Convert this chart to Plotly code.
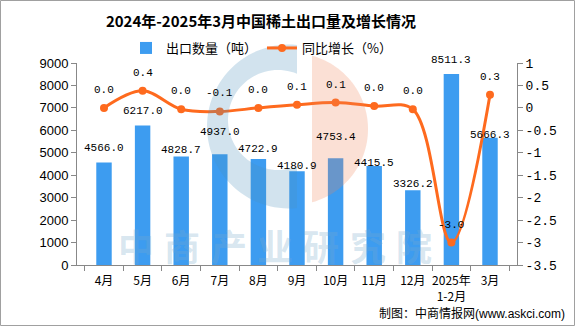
import math
import plotly.graph_objects as go

categories = ["4月", "5月", "6月", "7月", "8月", "9月", "10月", "11月", "12月", "2025年<br>1-2月", "3月"]
export_tons = [4566.0, 6217.0, 4828.7, 4937.0, 4722.9, 4180.9, 4753.4, 4415.5, 3326.2, 8511.3, 5666.3]
yoy_growth = [0.0, 0.38, -0.03, -0.08, 0.0, 0.07, 0.12, 0.04, -0.03, -3.0, 0.29]
left_ticks = [0, 1000, 2000, 3000, 4000, 5000, 6000, 7000, 8000, 9000]
right_ticks = [-3.5, -3, -2.5, -2, -1.5, -1, -0.5, 0, 0.5, 1]
right_ticktext = ["-3.5", "-3", "-2.5", "-2", "-1.5", "-1", "-0.5", "0", "0.5", "1"]
watermark_chars = list("中商产业研究院")

# label offsets (pixels above the bar top / marker), a styling list
bar_label_shift = [15, 14, 7, 22, 10, 5, 21, 3, 6, 14, 3]
line_label_shift = 18

W, H = 576, 327
ML, MR, MT, MB = 77, 59, 63, 62
PW, PH = W - ML - MR, H - MT - MB


def px(x):
    return (x - ML) / PW


def py(y):
    return (H - MB - y) / PH


def fmt1(v):
    return f"{round(v, 1) + 0.0:.1f}"


CJK = "Noto Sans CJK SC"
MONO = "Liberation Mono"

fig = go.Figure()
fig.add_trace(go.Bar(
    x=categories, y=export_tons, name="出口数量（吨）",
    marker=dict(color="#3d9cf0", line=dict(width=0)),
    yaxis="y",
))
fig.add_trace(go.Scatter(
    x=categories, y=yoy_growth, name="同比增长（%）", yaxis="y2",
    mode="lines+markers",
    line=dict(color="#fe6a1e", width=3, shape="spline", smoothing=1.0),
    marker=dict(color="#fe6a1e", size=8),
    cliponaxis=False,
))


def poly_path(pts):
    return "M " + " L ".join(f"{px(x):.5f},{py(y):.5f}" for x, y in pts) + " Z"


# logo watermark (blue crescent + pink slice)
cx, cy, R = 289, 126.5, 82
icx, icy, ir = 278, 120, 50
clipx = 297
outer = []
a0 = math.degrees(math.acos((clipx - cx) / R))
for i in range(61):
    a = math.radians(a0 + (360 - 2 * a0) * i / 60)
    outer.append((cx + R * math.cos(a), cy - R * math.sin(a)))
b0 = math.degrees(math.acos((clipx - icx) / ir))
inner = []
for i in range(61):
    a = math.radians(360 - b0 - (360 - 2 * b0) * i / 60)
    inner.append((icx + ir * math.cos(a), icy - ir * math.sin(a)))
blue_pts = outer + inner
pcx, pcy, pr = 292, 129, 76
pclip = 312
c0 = math.degrees(math.acos((pclip - pcx) / pr))
pink_pts = []
for i in range(61):
    a = math.radians(c0 - 2 * c0 * i / 60)
    pink_pts.append((pcx + pr * math.cos(a), pcy - pr * math.sin(a)))

shapes = [
    dict(type="path", xref="paper", yref="paper", path=poly_path(blue_pts),
         fillcolor="#4b8fbb", opacity=0.25, line=dict(width=0), layer="above"),
    dict(type="path", xref="paper", yref="paper", path=poly_path(pink_pts),
         fillcolor="#ef8357", opacity=0.25, line=dict(width=0), layer="above"),
    dict(type="rect", xref="paper", yref="paper",
         x0=px(0.5), x1=px(W - 1.5), y0=py(H - 1.5), y1=py(0.5),
         line=dict(color="#a0a0a0", width=1), fillcolor="rgba(0,0,0,0)", layer="below"),
]

annotations = []
# watermark text, one glyph each
wm_x0, wm_x1 = 136, 414
for i, ch in enumerate(watermark_chars):
    xc = wm_x0 + (wm_x1 - wm_x0) * i / (len(watermark_chars) - 1)
    annotations.append(dict(
        text=ch, xref="paper", yref="paper", x=px(xc), y=py(245),
        xanchor="center", yanchor="middle", showarrow=False,
        font=dict(family=CJK, size=36, color="rgba(120,170,205,0.3)", weight="bold")))

# bar value labels
for c, v, s in zip(categories, export_tons, bar_label_shift):
    annotations.append(dict(
        text=f"{v:.1f}", x=c, y=v, xref="x", yref="y", yshift=s,
        xanchor="center", yanchor="middle", showarrow=False,
        font=dict(family=MONO, size=11, color="#000")))

# growth labels
for c, v in zip(categories, yoy_growth):
    annotations.append(dict(
        text=fmt1(v), x=c, y=v, xref="x", yref="y2", yshift=line_label_shift,
        xanchor="center", yanchor="middle", showarrow=False,
        font=dict(family=MONO, size=11, color="#000")))

annotations.append(dict(
    text="制图：中商情报网<span style='font-family:Liberation Sans'>(www.askci.com)</span>",
    xref="paper", yref="paper", x=px(567), y=py(312),
    xanchor="right", yanchor="middle", showarrow=False,
    font=dict(family=CJK, size=12, color="#000")))

fig.update_layout(
    width=W, height=H,
    margin=dict(l=ML, r=MR, t=MT, b=MB),
    paper_bgcolor="white", plot_bgcolor="white",
    title=dict(text="<b>2024年-2025年3月中国稀土出口量及增长情况</b>",
               x=261 / W, xanchor="center", y=1 - 22 / H, yanchor="middle",
               font=dict(family=CJK, size=15, color="#000")),
    legend=dict(orientation="h", x=px(126), y=py(48), xanchor="left", yanchor="middle",
                font=dict(family=CJK, size=13, color="#000"),
                itemwidth=30, bgcolor="rgba(0,0,0,0)"),
    bargap=0.6,
    showlegend=True,
    xaxis=dict(type="category", showline=True, linecolor="#888", linewidth=1,
               ticks="outside", tickson="boundaries", ticklen=5, tickcolor="#888",
               tickangle=0, ticklabelstandoff=5,
               tickfont=dict(family=CJK, size=12, color="#000"), showgrid=False),
    yaxis=dict(range=[0, 9000], tickvals=left_ticks, showline=True, linecolor="#888",
               ticks="outside", ticklen=5, tickcolor="#888", showgrid=False, zeroline=False,
               tickfont=dict(family="Liberation Sans", size=13, color="#000")),
    yaxis2=dict(range=[-3.5, 1], overlaying="y", side="right", tickvals=right_ticks,
                ticktext=right_ticktext, showline=True, linecolor="#888",
                ticks="outside", ticklen=5, tickcolor="#888", showgrid=False, zeroline=False,
                tickfont=dict(family=MONO, size=13, color="#000")),
    shapes=shapes,
    annotations=annotations,
)

fig.write_html("out.html")
